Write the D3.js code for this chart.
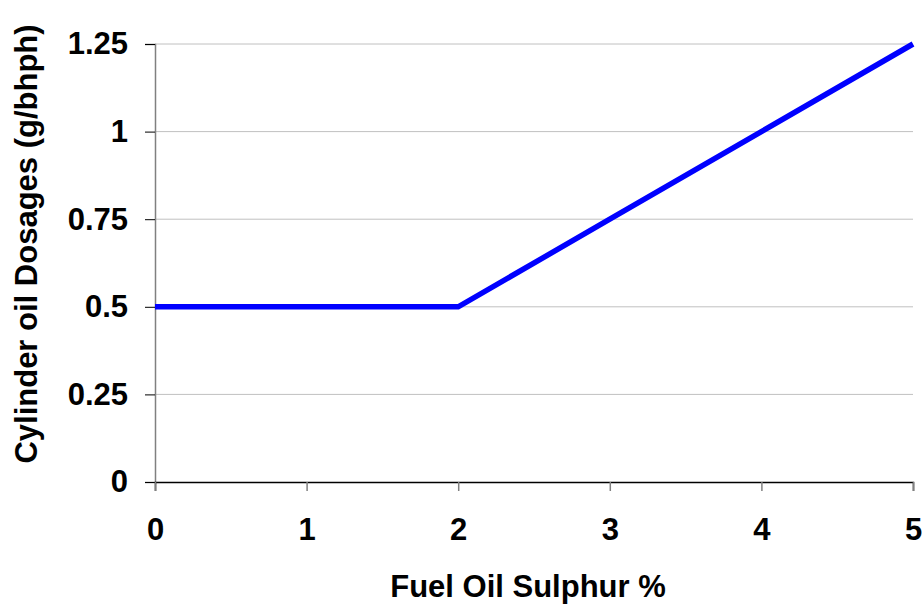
<!DOCTYPE html>
<html>
<head>
<meta charset="utf-8">
<script src="https://cdn.jsdelivr.net/npm/d3@7"></script>
<style>
  body { margin: 0; background: #fff; }
  text { font-family: Arial, "Liberation Sans", sans-serif; font-weight: bold; fill: #000; }
</style>
</head>
<body>
<div id="chart"></div>
<script>
// data
var sulphur = [0, 1, 2, 3, 4, 5];
var dosage = [0.5, 0.5, 0.5, 0.75, 1, 1.25];
var xTicks = [0, 1, 2, 3, 4, 5];
var yTicks = [0, 0.25, 0.5, 0.75, 1, 1.25];
var yTickLabels = ["0", "0.25", "0.5", "0.75", "1", "1.25"];

var width = 924, height = 604;
var margin = { top: 44, right: 11, bottom: 122, left: 155 };

var svg = d3.select("#chart").append("svg")
    .attr("width", width)
    .attr("height", height);

var x = d3.scaleLinear().domain([0, 5]).range([margin.left, width - margin.right]);
var y = d3.scaleLinear().domain([0, 1.25]).range([height - margin.bottom, margin.top]);

//gridlines
svg.append("g")
    .selectAll("line")
    .data(yTicks.filter(function (d) { return d > 0; }))
    .enter().append("line")
    .attr("x1", x(0)).attr("x2", x(5))
    .attr("y1", function (d) { return y(d); })
    .attr("y2", function (d) { return y(d); })
    .attr("stroke", "#c0c0c0")
    .attr("stroke-width", 1);

//y axis
var yAxis = svg.append("g")
    .attr("transform", "translate(" + x(0) + ",0)")
    .call(d3.axisLeft(y).tickValues(yTicks).tickSize(10).tickPadding(17)
        .tickFormat(function (d, i) { return yTickLabels[i]; }));
yAxis.select(".domain").attr("stroke", "#808080").attr("stroke-width", 1.5);
yAxis.selectAll(".tick line").attr("stroke", "#000");
yAxis.selectAll("text").attr("font-size", 31).attr("fill", "#000");
yAxis.attr("font-family", null);

//x axis
var xAxis = svg.append("g")
    .attr("transform", "translate(0," + y(0) + ")")
    .call(d3.axisBottom(x).tickValues(xTicks).tickSize(9).tickPadding(27)
        .tickFormat(d3.format("d")));
xAxis.select(".domain").attr("stroke", "#000").attr("stroke-width", 1.5);
xAxis.selectAll(".tick line").attr("stroke", "#808080").attr("stroke-width", 1.5);
xAxis.selectAll("text").attr("font-size", 31).attr("fill", "#000");
xAxis.attr("font-family", null);

//data line
var line = d3.line()
    .x(function (d, i) { return x(sulphur[i]); })
    .y(function (d) { return y(d); });

svg.append("path")
    .datum(dosage)
    .attr("d", line)
    .attr("fill", "none")
    .attr("stroke", "#0000ff")
    .attr("stroke-width", 5.5)
    .attr("stroke-linejoin", "miter");

//axis titles
svg.append("text")
    .attr("x", 528)
    .attr("y", 597)
    .attr("text-anchor", "middle")
    .attr("font-size", 31)
    .text("Fuel Oil Sulphur %");

svg.append("text")
    .attr("transform", "translate(37,244) rotate(-90)")
    .attr("text-anchor", "middle")
    .attr("font-size", 31)
    .text("Cylinder oil Dosages (g/bhph)");
</script>
</body>
</html>
